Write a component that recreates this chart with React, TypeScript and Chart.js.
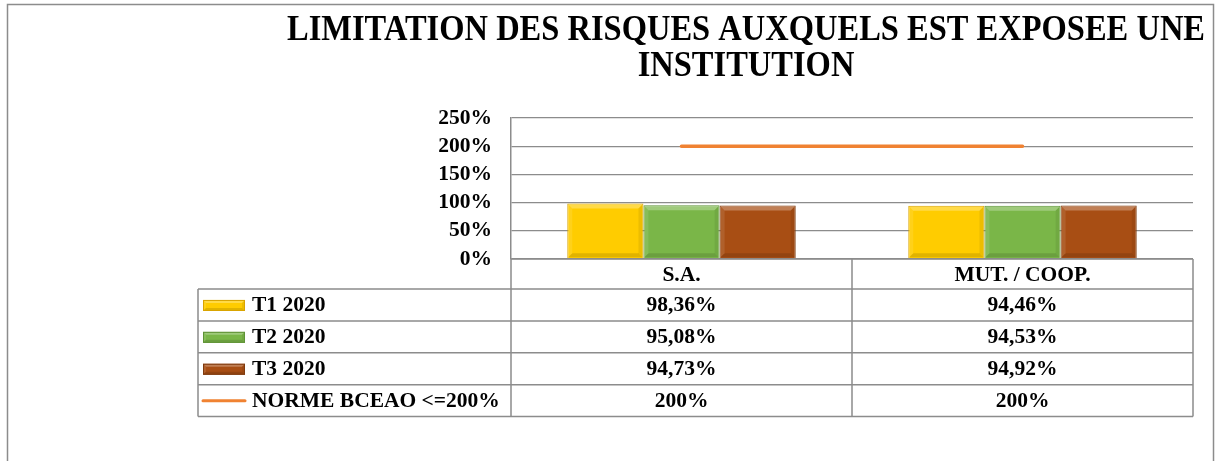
import React, { useEffect, useRef } from "react";
import { Chart, registerables } from "chart.js";

Chart.register(...registerables);

// ---- data ----
const TITLE_LINES = ["LIMITATION DES RISQUES AUXQUELS EST EXPOSEE UNE", "INSTITUTION"];
const CATEGORIES = ["S.A.", "MUT. / COOP."];
const SERIES_LABELS = ["T1 2020", "T2 2020", "T3 2020", "NORME BCEAO <=200%"];
const T1_2020 = [98.36, 94.46];
const T2_2020 = [95.08, 94.53];
const T3_2020 = [94.73, 94.92];
const NORME_BCEAO = [200, 200];
const Y_MIN = 0;
const Y_MAX = 250;
const Y_STEP = 50;

// ---- styles ----
const FONT = "'Liberation Serif', 'Times New Roman', serif";
const BAR_COLORS = ["#FFCC00", "#7AB648", "#A84E14"];
const BAR_BORDERS = ["#D9A300", "#5E9236", "#7E3A0E"];
const LINE_COLOR = "#F08232";
const GRID_COLOR = "#8c8c8c";

const fmt = (v: number) =>
  Number.isInteger(v) ? `${v}%` : `${v.toFixed(2).replace(".", ",")}%`;

function poly(ctx: CanvasRenderingContext2D, pts: number[][], color: string) {
  ctx.beginPath();
  ctx.moveTo(pts[0][0], pts[0][1]);
  for (let i = 1; i < pts.length; i++) ctx.lineTo(pts[i][0], pts[i][1]);
  ctx.closePath();
  ctx.fillStyle = color;
  ctx.fill();
}

function bevel(ctx: CanvasRenderingContext2D, x0: number, y0: number, x1: number, y1: number, s: number) {
  poly(ctx, [[x0, y0], [x1, y0], [x1 - s, y0 + s], [x0 + s, y0 + s]], "rgba(255,255,255,0.28)");
  poly(ctx, [[x0, y0], [x0 + s, y0 + s], [x0 + s, y1 - s], [x0, y1]], "rgba(255,255,255,0.1)");
  poly(ctx, [[x1, y0], [x1, y1], [x1 - s, y1 - s], [x1 - s, y0 + s]], "rgba(0,0,0,0.07)");
  poly(ctx, [[x0, y1], [x1, y1], [x1 - s, y1 - s], [x0 + s, y1 - s]], "rgba(0,0,0,0.12)");
}

const framePlugin = {
  id: "frame",
  beforeDraw(chart: any) {
    const ctx = chart.ctx as CanvasRenderingContext2D;
    ctx.save();
    ctx.fillStyle = "#ffffff";
    ctx.fillRect(0, 0, chart.width, chart.height);
    ctx.strokeStyle = "#8c8c8c";
    ctx.lineWidth = 1.5;
    ctx.strokeRect(7.5, 4.5, 1206, 500);
    ctx.restore();
  },
};

const titlePlugin = {
  id: "customTitle",
  afterDraw(chart: any) {
    const ctx = chart.ctx as CanvasRenderingContext2D;
    ctx.save();
    ctx.fillStyle = "#000";
    ctx.font = `bold 32.5px ${FONT}`;
    ctx.textAlign = "center";
    ctx.textBaseline = "alphabetic";
    const baselines = [40, 76];
    TITLE_LINES.forEach((line, i) => {
      ctx.save();
      ctx.translate(746, baselines[i]);
      ctx.scale(1, 1.08);
      ctx.fillText(line, 0, 0);
      ctx.restore();
    });
    ctx.restore();
  },
};

const bevelPlugin = {
  id: "bevel",
  afterDatasetsDraw(chart: any) {
    const ctx = chart.ctx as CanvasRenderingContext2D;
    ctx.save();
    chart.data.datasets.forEach((ds: any, i: number) => {
      if (ds.type !== "bar") return;
      const meta = chart.getDatasetMeta(i);
      meta.data.forEach((el: any) => {
        const { x, y, base, width } = el.getProps(["x", "y", "base", "width"], true);
        const x0 = x - width / 2;
        const x1 = x + width / 2;
        bevel(ctx, x0 + 1, Math.min(y, base) + 1, x1 - 1, Math.max(y, base) - 1, 4);
      });
    });
    ctx.restore();
  },
};

const tablePlugin = {
  id: "dataTable",
  afterDraw(chart: any) {
    const ctx = chart.ctx as CanvasRenderingContext2D;
    const area = chart.chartArea;
    const xs = chart.scales.x;
    const c0 = xs.getPixelForValue(0);
    const c1 = xs.getPixelForValue(1);
    const mid = (c0 + c1) / 2;
    const left = 198;
    const top = area.bottom;
    const headerH = 30;
    const rowH = 31.9;
    const headerBottom = top + headerH;
    const seriesValues = [T1_2020, T2_2020, T3_2020, NORME_BCEAO];
    const bottom = headerBottom + rowH * seriesValues.length;
    const centers = [c0, c1];

    ctx.save();
    ctx.strokeStyle = GRID_COLOR;
    ctx.lineWidth = 1.5;
    ctx.beginPath();
    ctx.moveTo(area.left, top);
    ctx.lineTo(area.right, top);
    for (let r = 0; r <= seriesValues.length; r++) {
      const y = headerBottom + r * rowH;
      ctx.moveTo(left, y);
      ctx.lineTo(area.right, y);
    }
    ctx.moveTo(left, headerBottom);
    ctx.lineTo(left, bottom);
    [area.left, mid, area.right].forEach((x) => {
      ctx.moveTo(x, top);
      ctx.lineTo(x, bottom);
    });
    ctx.stroke();

    ctx.fillStyle = "#000";
    ctx.font = `bold 21.5px ${FONT}`;
    ctx.textBaseline = "middle";
    ctx.textAlign = "center";
    CATEGORIES.forEach((c, i) => ctx.fillText(c, centers[i], top + headerH / 2 + 1));

    seriesValues.forEach((vals, r) => {
      const yc = headerBottom + r * rowH + rowH / 2 + 1;
      ctx.textAlign = "center";
      ctx.fillStyle = "#000";
      vals.forEach((v, i) => ctx.fillText(fmt(v), centers[i], yc));
      const sx0 = 203;
      const sx1 = 245;
      if (r < 3) {
        const sy0 = yc - 6;
        const sy1 = yc + 5;
        ctx.fillStyle = BAR_COLORS[r];
        ctx.fillRect(sx0, sy0, sx1 - sx0, sy1 - sy0);
        bevel(ctx, sx0, sy0, sx1, sy1, 3);
        ctx.strokeStyle = BAR_BORDERS[r];
        ctx.lineWidth = 1;
        ctx.strokeRect(sx0 + 0.5, sy0 + 0.5, sx1 - sx0 - 1, sy1 - sy0 - 1);
      } else {
        ctx.strokeStyle = LINE_COLOR;
        ctx.lineWidth = 3;
        ctx.lineCap = "round";
        ctx.beginPath();
        ctx.moveTo(sx0, yc - 1);
        ctx.lineTo(sx1, yc - 1);
        ctx.stroke();
      }
      ctx.fillStyle = "#000";
      ctx.textAlign = "left";
      ctx.fillText(SERIES_LABELS[r], 252, yc);
    });
    ctx.restore();
  },
};

export default function App() {
  const canvasRef = useRef<HTMLCanvasElement | null>(null);

  useEffect(() => {
    if (!canvasRef.current) return;
    const barCommon = {
      type: "bar" as const,
      borderWidth: 1,
      categoryPercentage: 0.67,
      barPercentage: 1,
    };
    const chart = new Chart(canvasRef.current, {
      type: "bar",
      data: {
        labels: CATEGORIES,
        datasets: [
          { ...barCommon, label: SERIES_LABELS[0], data: T1_2020, backgroundColor: BAR_COLORS[0], borderColor: BAR_BORDERS[0] },
          { ...barCommon, label: SERIES_LABELS[1], data: T2_2020, backgroundColor: BAR_COLORS[1], borderColor: BAR_BORDERS[1] },
          { ...barCommon, label: SERIES_LABELS[2], data: T3_2020, backgroundColor: BAR_COLORS[2], borderColor: BAR_BORDERS[2] },
          {
            type: "line",
            label: SERIES_LABELS[3],
            data: NORME_BCEAO,
            borderColor: LINE_COLOR,
            backgroundColor: LINE_COLOR,
            borderWidth: 3.5,
            borderCapStyle: "round",
            pointRadius: 0,
            fill: false,
          } as any,
        ],
      },
      options: {
        responsive: false,
        animation: false,
        devicePixelRatio: 1,
        layout: { padding: { left: 0, right: 24, top: 118, bottom: 202 } },
        plugins: {
          legend: { display: false },
          title: { display: false },
          tooltip: { enabled: false },
        },
        scales: {
          x: { display: false, offset: true },
          y: {
            min: Y_MIN,
            max: Y_MAX,
            ticks: {
              stepSize: Y_STEP,
              autoSkip: false,
              callback: (v: any) => `${v}%`,
              color: "#000",
              padding: 19,
              font: { family: FONT, size: 21.5, weight: "bold" },
            },
            grid: { color: GRID_COLOR, lineWidth: 1.3, drawTicks: false },
            border: { display: true, color: GRID_COLOR, width: 1.5 },
            afterFit: (axis: any) => {
              axis.width = 511;
            },
          },
        },
      } as any,
      plugins: [framePlugin, bevelPlugin, tablePlugin, titlePlugin],
    });
    return () => chart.destroy();
  }, []);

  return (
    <div style={{ position: "absolute", left: 0, top: 0, width: 1217, height: 461 }}>
      <canvas ref={canvasRef} width={1217} height={461} />
    </div>
  );
}
